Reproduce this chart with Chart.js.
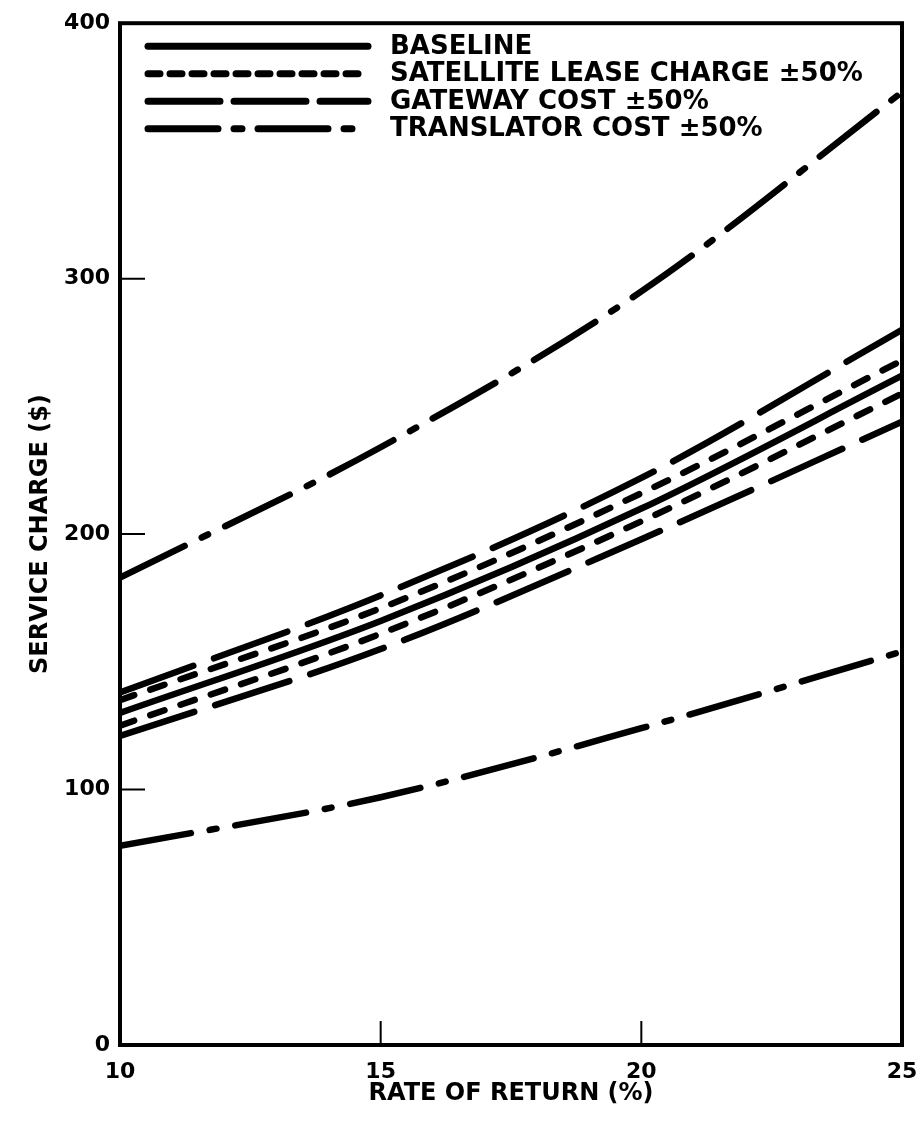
<!DOCTYPE html>
<html>
<head>
<meta charset="utf-8">
<script src="https://cdn.jsdelivr.net/npm/chart.js@4"></script>
<style>
  html, body { margin: 0; padding: 0; background: #fff; }
  canvas { display: block; }
</style>
</head>
<body>
<canvas id="chart" width="919" height="1136"></canvas>
<script>
// rate of return (%) at which values were read
const rates = [10, 15, 20, 25];

// service charge ($)
const baseline = [130, 166, 210, 262];
const satelliteHigh = [135, 171, 216, 268];
const satelliteLow = [125, 161, 205, 255];
const gatewayHigh = [138, 176, 222, 280];
const gatewayLow = [121, 155, 198, 244];
const translatorHigh = [183, 234, 295, 373];
const translatorLow = [78, 97, 124, 154];

const legendNames = ['BASELINE', 'SATELLITE LEASE CHARGE \u00b150%', 'GATEWAY COST \u00b150%', 'TRANSLATOR COST \u00b150%'];
const yTicks = [0, 100, 200, 300, 400];
const xTicks = [10, 15, 20, 25];

const INK = '#000';
const LW = 6.5;
const dashSat = [15, 17];
const dashGate = [78, 22];
const dashTrans = [72, 19, 7, 19];
const legendDash = [[], [12, 10], [72, 14], [70, 16, 8, 16]];

const pts = vals => vals.map((v, i) => ({ x: rates[i], y: v }));

function series(label, vals, dash) {
    return {
        label: label,
        data: pts(vals),
        borderColor: INK,
        borderWidth: LW,
        borderDash: dash,
        borderCapStyle: 'round',
        pointRadius: 0,
        fill: false,
        cubicInterpolationMode: 'monotone'
    };
}

const FONT = 'DejaVu Sans';

// inside legend, inward tick marks and the frame
const framePlugin = {
    id: 'frame',
    afterDraw(chart) {
        const ctx = chart.ctx;
        const a = chart.chartArea;
        const xs = chart.scales.x, ys = chart.scales.y;
        ctx.save();
        ctx.strokeStyle = INK;
        ctx.lineWidth = 4;
        ctx.strokeRect(a.left, a.top, a.right - a.left, a.bottom - a.top);
        ctx.lineWidth = 2;
        ctx.beginPath();
        yTicks.slice(1, -1).forEach(v => {
            const y = ys.getPixelForValue(v);
            ctx.moveTo(a.left, y);
            ctx.lineTo(a.left + 25, y);
        });
        xTicks.slice(1, -1).forEach(v => {
            const x = xs.getPixelForValue(v);
            ctx.moveTo(x, a.bottom);
            ctx.lineTo(x, a.bottom - 24);
        });
        ctx.stroke();

        // legend
        ctx.lineWidth = 7;
        ctx.lineCap = 'round';
        ctx.font = 'bold 26px "' + FONT + '"';
        ctx.textBaseline = 'middle';
        ctx.fillStyle = INK;
        legendNames.forEach((name, i) => {
            const y = a.top + 23 + i * 27.5;
            ctx.setLineDash(legendDash[i]);
            ctx.beginPath();
            ctx.moveTo(a.left + 28, y);
            ctx.lineTo(a.left + 248, y);
            ctx.stroke();
            ctx.fillText(name, a.left + 270, y + 1);
        });
        ctx.restore();
    }
};

new Chart(document.getElementById('chart'), {
    type: 'line',
    data: {
        datasets: [
            series('BASELINE', baseline, []),
            series('SATELLITE +50%', satelliteHigh, dashSat),
            series('SATELLITE -50%', satelliteLow, dashSat),
            series('GATEWAY +50%', gatewayHigh, dashGate),
            series('GATEWAY -50%', gatewayLow, dashGate),
            series('TRANSLATOR +50%', translatorHigh, dashTrans),
            series('TRANSLATOR -50%', translatorLow, dashTrans)
        ]
    },
    options: {
        responsive: false,
        animation: false,
        events: [],
        layout: { padding: { left: 0, right: 17, top: 20, bottom: 0 } },
        plugins: {
            legend: { display: false },
            tooltip: { enabled: false }
        },
        scales: {
            x: {
                type: 'linear',
                min: 10,
                max: 25,
                afterBuildTicks: s => { s.ticks = xTicks.map(v => ({ value: v })); },
                afterFit: s => { s.height = 91; s.paddingRight = 0; s.paddingLeft = 0; },
                grid: { display: false, drawTicks: false },
                border: { display: false },
                ticks: {
                    color: INK,
                    padding: 14,
                    maxRotation: 0,
                    autoSkip: false,
                    font: { family: FONT, size: 22, weight: 'bold' }
                },
                title: {
                    display: true,
                    text: 'RATE OF RETURN (%)',
                    color: INK,
                    padding: { top: 4, bottom: 28 },
                    font: { family: FONT, size: 24, weight: 'bold' }
                }
            },
            y: {
                min: 0,
                max: 400,
                afterBuildTicks: s => { s.ticks = yTicks.map(v => ({ value: v })); },
                afterFit: s => { s.width = 120; },
                grid: { display: false, drawTicks: false },
                border: { display: false },
                ticks: {
                    color: INK,
                    padding: 10,
                    font: { family: FONT, size: 22, weight: 'bold' }
                },
                title: {
                    display: true,
                    text: 'SERVICE CHARGE ($)',
                    color: INK,
                    padding: { top: 26, bottom: 4 },
                    font: { family: FONT, size: 24, weight: 'bold' }
                }
            }
        }
    },
    plugins: [framePlugin]
});
</script>
</body>
</html>
